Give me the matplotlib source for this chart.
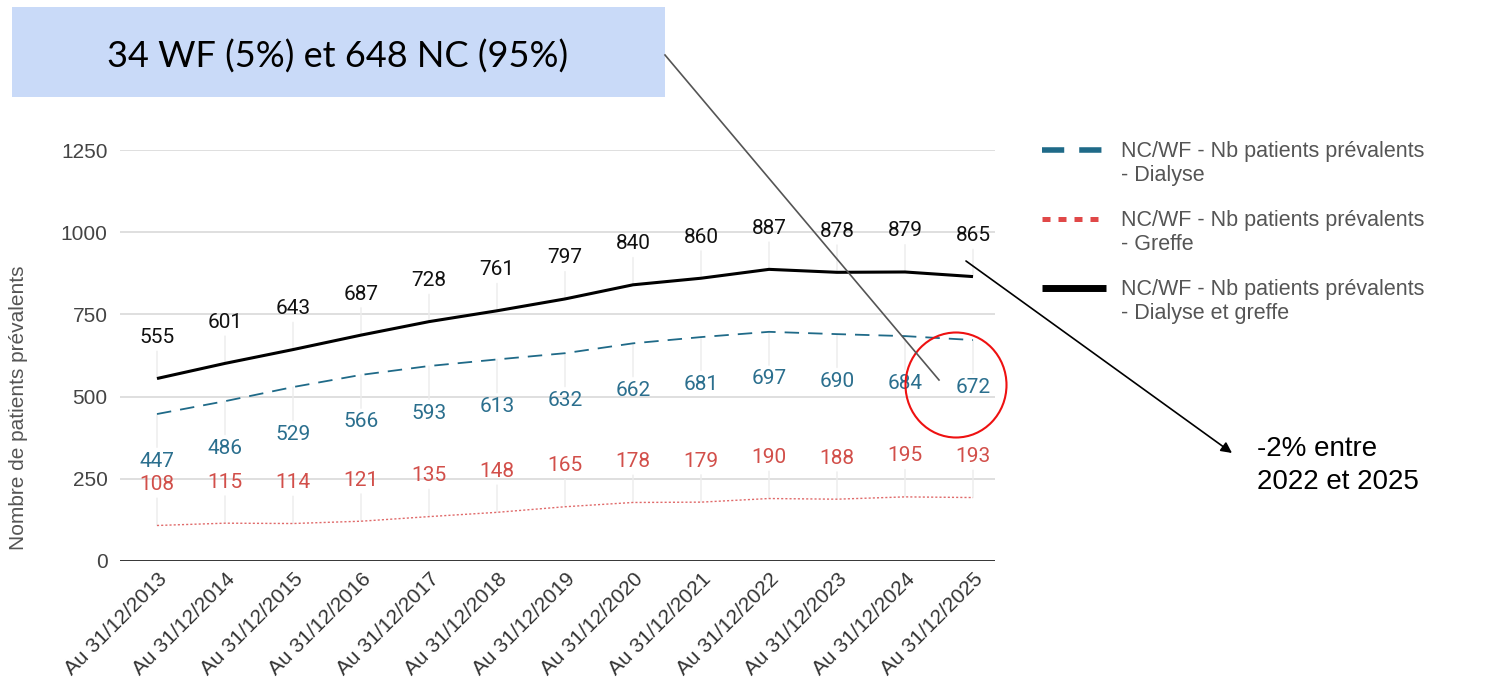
import matplotlib
matplotlib.use('Agg')
import matplotlib.pyplot as plt
from matplotlib.lines import Line2D
from matplotlib.patches import Rectangle, Ellipse

# Données
dates = ['Au 31/12/2013', 'Au 31/12/2014', 'Au 31/12/2015', 'Au 31/12/2016',
         'Au 31/12/2017', 'Au 31/12/2018', 'Au 31/12/2019', 'Au 31/12/2020',
         'Au 31/12/2021', 'Au 31/12/2022', 'Au 31/12/2023', 'Au 31/12/2024',
         'Au 31/12/2025']
dialyse = [447, 486, 529, 566, 593, 613, 632, 662, 681, 697, 690, 684, 672]
greffe = [108, 115, 114, 121, 135, 148, 165, 178, 179, 190, 188, 195, 193]
total = [555, 601, 643, 687, 728, 761, 797, 840, 860, 887, 878, 879, 865]
yticks = [0, 250, 500, 750, 1000, 1250]

labels = ['NC/WF - Nb patients prévalents\n- Dialyse',
          'NC/WF - Nb patients prévalents\n- Greffe',
          'NC/WF - Nb patients prévalents\n- Dialyse et greffe']

BLUE = '#1f6a88'
BLUE_TXT = '#2b6f8e'
RED = '#e06a6a'
RED_TXT = '#d24f4a'
ARIAL = ['Liberation Sans', 'DejaVu Sans']

W, H = 1498, 688
fig = plt.figure(figsize=(W / 100, H / 100), dpi=100)
plt.rcParams['font.family'] = ['Roboto', 'DejaVu Sans']

def fx(px):
    return px / W

def fy(py):
    return 1 - py / H

ax = fig.add_axes([fx(120), fy(561), fx(995) - fx(120), (561 - 150) / H])
x = list(range(len(dates)))

ax.plot(x, total, color='black', lw=2.2, zorder=5, solid_capstyle='butt')
ax.plot(x, dialyse, color=BLUE, lw=1.3, dashes=(8, 5), zorder=5)
ax.plot(x, greffe, color=RED, lw=1.0, dashes=(1.5, 1.5), zorder=5)

# étiquettes des valeurs avec petits traits verticaux
lead = dict(arrowstyle='-', color='#ececec', lw=1.0, shrinkA=1, shrinkB=0)
for i in x:
    ax.annotate(str(total[i]), (i, total[i]), xytext=(0, 41), textcoords='offset pixels',
                ha='center', va='center', fontsize=15, color='#111111',
                arrowprops=lead, zorder=3)
    ax.annotate(str(dialyse[i]), (i, dialyse[i]), xytext=(0, -47), textcoords='offset pixels',
                ha='center', va='center', fontsize=15, color=BLUE_TXT,
                arrowprops=lead, zorder=3)
    ax.annotate(str(greffe[i]), (i, greffe[i]), xytext=(0, 41), textcoords='offset pixels',
                ha='center', va='center', fontsize=15, color=RED_TXT,
                arrowprops=lead, zorder=3)

ax.set_xlim(-37 / 68, (995 - 157) / 68)
ax.set_ylim(0, 1250)
ax.set_yticks(yticks)
ax.set_yticklabels([str(v) for v in yticks], fontsize=15, color='#444444', family=ARIAL)
ax.set_xticks(x)
ax.set_xticklabels(dates, rotation=45, ha='right', va='top', rotation_mode='anchor',
                   fontsize=15, color='#333333', family=ARIAL)
ax.tick_params(length=0)
ax.tick_params(axis='y', pad=9)
ax.tick_params(axis='x', pad=6)
for s in ax.spines.values():
    s.set_visible(False)
for v in yticks[1:]:
    ax.axhline(v, color='#d9d9d9', lw=1.2, zorder=1)
ax.axhline(0, color='#222222', lw=2, zorder=2)

fig.text(fx(19), fy(408), 'Nombre de patients prévalents', rotation=90,
         ha='center', va='center', fontsize=15, color='#555555', family=ARIAL)

# légende
leg_styles = [
    dict(color=BLUE, lw=4, dashes=(4, 2.7)),
    dict(color='#e04848', lw=3.6, dashes=(1.6, 1.6)),
    dict(color='black', lw=5),
]
for k, (lab, st) in enumerate(zip(labels, leg_styles)):
    y0 = 150 + k * 69
    fig.add_artist(Line2D([fx(1042), fx(1106)], [fy(y0), fy(y0)], transform=fig.transFigure,
                          solid_capstyle='butt', dash_capstyle='butt', **st))
    fig.text(fx(1121), fy(y0 - 9), lab, ha='left', va='top', fontsize=15.5,
             color='#555555', linespacing=1.2, family=ARIAL)

# encadré et annotations
fig.add_artist(Rectangle((fx(12), fy(97)), fx(665) - fx(12), (97 - 7) / H,
                         transform=fig.transFigure, facecolor='#c9daf8', edgecolor='none'))
fig.text(fx(338), fy(57), '34 WF (5%) et 648 NC (95%)', ha='center', va='center',
         fontsize=26, family=['Lato', 'DejaVu Sans'], color='black')
fig.add_artist(Line2D([fx(665), fx(939)], [fy(55), fy(380)], transform=fig.transFigure,
                      color='#555555', lw=1.2))
fig.add_artist(Ellipse((fx(956), fy(385)), 101 / W, 105 / H, transform=fig.transFigure,
                       facecolor='none', edgecolor='#ee1111', lw=1.5))
ax.annotate('', xy=(1232, H - 453), xytext=(966, H - 261), xycoords='figure pixels',
            textcoords='figure pixels', annotation_clip=False,
            arrowprops=dict(arrowstyle='-|>', color='black', lw=1.2, mutation_scale=16,
                            shrinkA=0, shrinkB=0))
fig.text(fx(1257), fy(436), '-2% entre\n2022 et 2025', ha='left', va='top', fontsize=20,
         family=ARIAL, color='black', linespacing=1.35)

fig.savefig('out.png', dpi=100)
